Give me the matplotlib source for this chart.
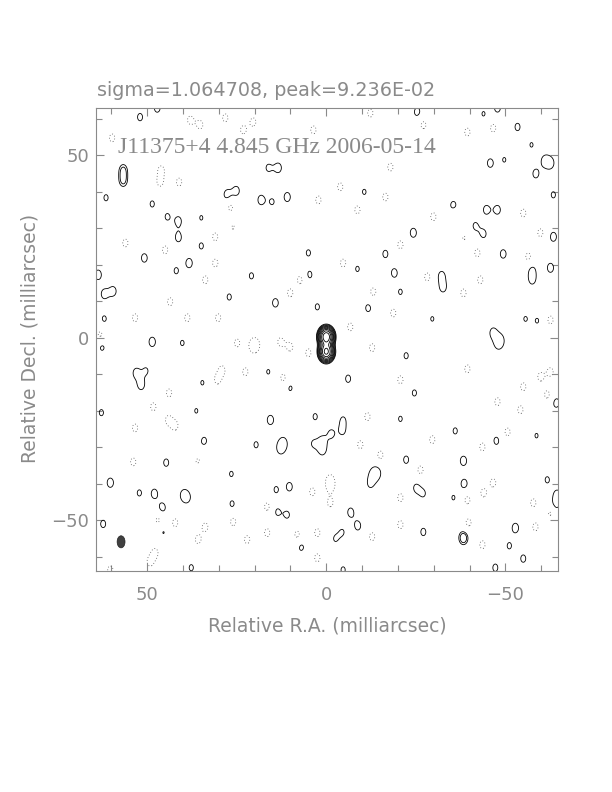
import numpy as np
import matplotlib
matplotlib.use("Agg")
import matplotlib.pyplot as plt
from matplotlib.patches import Ellipse

# map header
source_name = "J11375+4"
freq_label = "4.845 GHz"
obs_date = "2006-05-14"
sigma_val = "1.064708"
peak_val = "9.236E-02"

# clean components of the source (x, y in mas, peak in units of lowest contour)
src_x = [0.0, 0.0]
src_y = [0.3, -3.8]
src_amp = [22.0, 18.0]
src_sig = (1.1, 1.4)

# contour levels (lowest contour = 1, steps of sqrt 2)
pos_levels = [1, 1.41, 2, 2.83, 4, 5.66, 8, 11.3, 16]
neg_levels = [-1]

# restoring beam (mas)
beam_x, beam_y = 57.3, -55.9
beam_w, beam_h = 2.2, 3.3

# the few noise peaks that reach the second contour
strong_x = [56.7, 56.7, -38.3]
strong_y = [46.0, 43.0, -54.8]
strong_amp = [1.5, 1.5, 2.0]

# positive noise peaks (x, y, amp)
pos_x = [52.0, 47.2, 13.4, 16.2, 27.7, 25.1, 18.2, 15.1, 10.9, 48.6, 61.5, 44.4,
         41.3, 41.3, 34.9, 28.2, 34.9, 50.8, 38.3, 41.9, 5.0, 4.7, 20.9, 63.7, 62.0, 59.5,
         27.1, 14.2, 2.5, 62.0, 48.6, 40.2, 62.6,
         -25.4, -43.9, -47.8, -53.4, -57.3, -58.5, -61.0, -62.6, -45.8, -49.7, -10.6, -63.4,
         -35.5, -44.7, -47.8, -37.2, -41.6, -43.9, -24.3, -63.4, -16.5, -49.4, -8.7, -19.0,
         -32.2, -32.6, -57.5, -57.5, -62.6, -20.7, -11.7, -29.6, -55.6, -58.9, -46.6, -48.6,
         53.1, 50.3, 51.7, 34.6, 16.2, 10.1, 3.1, 62.8, 36.3, 15.6, 34.1, 36.9, 19.6, 12.0,
         12.8, 1.1, 1.1, 3.6, 44.7, 26.5, 60.3, 52.2, 48.0, 39.9, 38.8, 45.8, 26.3, 14.0,
         10.3, 13.7, 10.9, 62.3, 45.5, 7.0, 37.7,
         -48.0, -22.3, -6.1, -24.6, -4.7, -20.7, -1.4, -4.5, -36.0, -64.2, -58.7, -47.5,
         -22.3, -38.3, -13.1, -14.2, -12.3, -38.5, -25.1, -27.1, -35.5, -61.7, -64.5, -64.0,
         -6.8, -8.8, -52.8, -27.1, -51.1, -55.0, -4.5, -2.5, -47.2, -4.7]
pos_y = [60.5, 63.0, 46.6, 46.6, 39.2, 40.3, 37.8, 37.3, 38.6, 36.7, 38.4, 33.2,
         32.0, 27.5, 32.9, 31.0, 25.2, 21.9, 20.5, 18.4, 23.3, 17.3, 17.0, 17.3, 12.0, 12.8,
         11.2, 9.6, 8.5, 5.2, -1.1, -1.4, -2.5,
         61.9, 61.4, 63.0, 57.8, 52.9, 45.0, 48.5, 47.9, 47.9, 48.8, 40.0, 39.2,
         36.2, 35.1, 35.1, 30.1, 30.7, 28.5, 28.8, 27.7, 23.0, 23.0, 18.9, 17.8,
         17.0, 13.8, 18.6, 15.9, 19.2, 12.6, 8.2, 5.2, 5.2, 4.7, 1.4, -0.5,
         -9.6, -9.0, -12.9, -12.3, -9.3, -13.7, -21.6, -20.5, -20.0, -22.5, -28.2, -30.7, -29.3, -28.8,
         -30.4, -28.2, -30.7, -29.0, -34.2, -37.3, -39.7, -42.5, -42.7, -43.0, -43.8, -46.6, -45.5, -41.6,
         -40.8, -47.7, -48.5, -51.0, -53.2, -57.3, -63.0,
         -1.6, -4.9, -11.2, -15.1, -22.5, -22.2, -26.3, -25.5, -25.5, -17.8, -26.8, -28.2,
         -33.4, -33.7, -37.5, -37.0, -40.0, -40.0, -41.1, -42.7, -43.8, -38.9, -43.0, -45.8,
         -47.8, -51.5, -52.1, -53.2, -57.0, -60.5, -53.2, -55.1, -63.0, -63.6]
pos_amp = [1.22, 1.3, 1.35, 1.15, 1.37, 1.3, 1.37, 1.11, 1.35, 1.15, 1.15, 1.15,
           1.3, 1.3, 1.08, 1.15, 1.15, 1.3, 1.37, 1.15, 1.15, 1.22, 1.15, 1.38, 1.3, 1.3,
           1.15, 1.3, 1.15, 1.15, 1.38, 1.11, 1.22,
           1.3, 1.08, 1.3, 1.22, 1.08, 1.3, 1.3, 1.35, 1.3, 1.08, 1.11, 1.15,
           1.35, 1.3, 1.3, 1.22, 1.15, 1.22, 1.35, 1.35, 1.22, 1.3, 1.11, 1.3,
           1.3, 1.3, 1.15, 1.22, 1.35, 1.11, 1.22, 1.08, 1.08, 1.08, 1.35, 1.08,
           1.3, 1.08, 1.37, 1.08, 1.08, 1.15, 1.15, 1.15, 1.08, 1.37, 1.19, 1.08, 1.15, 1.35,
           1.22, 1.15, 1.35, 1.08, 1.22, 1.11, 1.37, 1.15, 1.35, 1.08, 1.08, 1.38, 1.15, 1.15,
           1.3, 1.15, 1.15, 1.22, 1.08, 1.22, 1.15,
           1.15, 1.15, 1.22, 1.15, 1.08, 1.11, 1.22, 1.15, 1.15, 1.35, 1.08, 1.22,
           1.22, 1.37, 1.22, 1.22, 1.11, 1.35, 1.19, 1.08, 1.08, 1.15, 1.3, 1.3,
           1.3, 1.3, 1.38, 1.22, 1.15, 1.22, 1.04, 1.04, 1.22, 1.15]

# negative noise peaks (drawn dotted)
neg_x = [59.8, 46.1, 46.4, 41.1, 38.0, 35.2, 28.2, 23.2, 20.4, 3.6, 26.8, 26.3, 31.0, 45.0,
         56.1, 31.0, 33.8, 7.3, 10.1, 43.6, 53.4, 38.8, 30.2, 2.2, 24.9, 19.8, 12.8, 63.1,
         -12.3, -27.1, -39.4, -46.6, -17.9, -3.9, -16.5, -8.7, -29.9, -36.0, -55.0, -59.8,
         -20.7, -42.2, -56.4, -4.7, -28.2, -43.0, -13.1, -38.3, -18.7, -6.7, -62.6, -38.3,
         20.4, 10.1, 5.0, 30.4, 29.1, 22.6, 12.0, 43.9, 48.3, 44.1, 42.2, 53.4, 53.9, 36.0,
         3.9, 16.5, 26.0, 33.8, 46.9, 42.2, 47.8, 49.2, 16.5, 8.1, 2.5, 22.1, 35.8, 60.3,
         2.5, -1.1,
         -12.8, -39.4, -20.7, -62.6, -59.8, -55.0, -47.8, -54.2, -61.7, -11.5, -50.6, -9.5,
         -29.6, -43.6, -15.1, -26.3, -1.1, -46.6, -43.9, -39.4, -20.7, -1.1, -57.8, -39.7,
         -20.7, -12.8, -43.6, -58.4, -62.6]
neg_y = [54.8, 46.0, 42.7, 42.7, 59.7, 58.4, 60.3, 57.0, 59.2, 57.0, 35.9, 30.4, 27.7, 24.1,
         26.0, 20.5, 15.9, 15.9, 12.3, 9.9, 5.5, 5.5, 5.5, 37.8, -1.4, -1.9, -1.1, 0.8,
         61.6, 58.4, 56.4, 57.5, 46.8, 41.4, 38.6, 35.1, 33.2, 32.9, 34.2, 28.8,
         25.5, 23.3, 22.2, 20.5, 16.7, 15.9, 12.6, 12.3, 6.8, 3.0, 4.9, 27.7,
         -2.2, -2.5, -4.1, -11.5, -8.8, -9.3, -11.0, -15.1, -18.9, -22.5, -24.1, -24.7, -34.0, -33.4,
         -42.2, -46.3, -50.4, -51.8, -49.9, -50.7, -58.9, -61.4, -53.4, -54.0, -53.4, -55.3, -55.3, -63.6,
         -60.3, -40.8,
         -2.7, -8.5, -11.5, -9.3, -10.7, -13.4, -17.5, -19.7, -15.6, -21.6, -25.8, -29.3,
         -27.9, -29.9, -32.1, -36.2, -38.9, -39.7, -42.5, -44.4, -43.8, -45.2, -45.2, -50.7,
         -51.2, -54.5, -56.7, -51.8, -47.9]
neg_amp = -1.25
noise_sig = (1.1, 1.6)

# build the map on a grid
gx = np.arange(-67, 67.01, 0.2)
gy = np.arange(-67, 67.01, 0.2)
X, Y = np.meshgrid(gx, gy)


def blob(x0, y0, amp, sig):
    ex = np.exp(-(gx - x0) ** 2 / (2 * sig[0] ** 2))
    ey = np.exp(-(gy - y0) ** 2 / (2 * sig[1] ** 2))
    return amp * np.outer(ey, ex)


# weak noise peaks merge but stay below the second contour
zpos = np.zeros_like(X)
for x0, y0, a in zip(pos_x, pos_y, pos_amp):
    zpos += blob(x0, y0, a, noise_sig)
zpos = np.minimum(zpos, 1.38)

Z = zpos
for x0, y0 in zip(neg_x, neg_y):
    Z = Z + blob(x0, y0, neg_amp, noise_sig)
for x0, y0, a in zip(strong_x, strong_y, strong_amp):
    Z = Z + blob(x0, y0, a, noise_sig)
for x0, y0, a in zip(src_x, src_y, src_amp):
    Z = Z + blob(x0, y0, a, src_sig)

grey = "#8a8a8a"

fig = plt.figure(figsize=(6.12, 7.92), dpi=100)
ax = fig.add_axes([96 / 612, 1 - 571 / 792, 462 / 612, 463 / 792])

ax.contour(X, Y, Z, levels=pos_levels, colors="black", linewidths=0.6)
ax.contour(X, Y, Z, levels=neg_levels, colors="#555555", linewidths=0.6,
           linestyles=[(0, (1, 2.5))])

ax.add_patch(Ellipse((beam_x, beam_y), beam_w, beam_h, facecolor="#404040",
                     edgecolor="#202020", lw=0.5))

ax.set_xlim(64.3, -64.7)
ax.set_ylim(-63.9, 63.0)
ax.set_xticks([50, 0, -50])
ax.set_yticks([-50, 0, 50])
ax.set_xticks(np.arange(-60, 61, 10), minor=True)
ax.set_yticks(np.arange(-60, 61, 10), minor=True)
ax.tick_params(which="both", direction="in", top=True, right=True, color=grey)
ax.tick_params(which="major", length=6, width=0.8, labelsize=13, labelcolor=grey)
ax.tick_params(which="minor", length=4, width=0.8)
ax.tick_params(axis="x", which="major", pad=11)
ax.tick_params(axis="y", which="major", pad=5)
for s in ax.spines.values():
    s.set_color(grey)
    s.set_linewidth(0.8)

ax.set_xlabel("Relative R.A. (milliarcsec)", fontsize=13.5, color=grey, labelpad=9)
fig.text(30 / 612, 1 - 338 / 792, "Relative Decl. (milliarcsec)", rotation=90,
         ha="center", va="center", fontsize=13.5, color=grey)

ax.text(0.048, 0.914, source_name + " " + freq_label + " " + obs_date,
        transform=ax.transAxes, fontsize=17, family="Liberation Serif", color=grey,
        ha="left", va="center")
fig.text(97 / 612, 1 - 90 / 792, "sigma=" + sigma_val + ", peak=" + peak_val,
         fontsize=13.8, color=grey, ha="left", va="center")

fig.savefig("out.png", dpi=100)
